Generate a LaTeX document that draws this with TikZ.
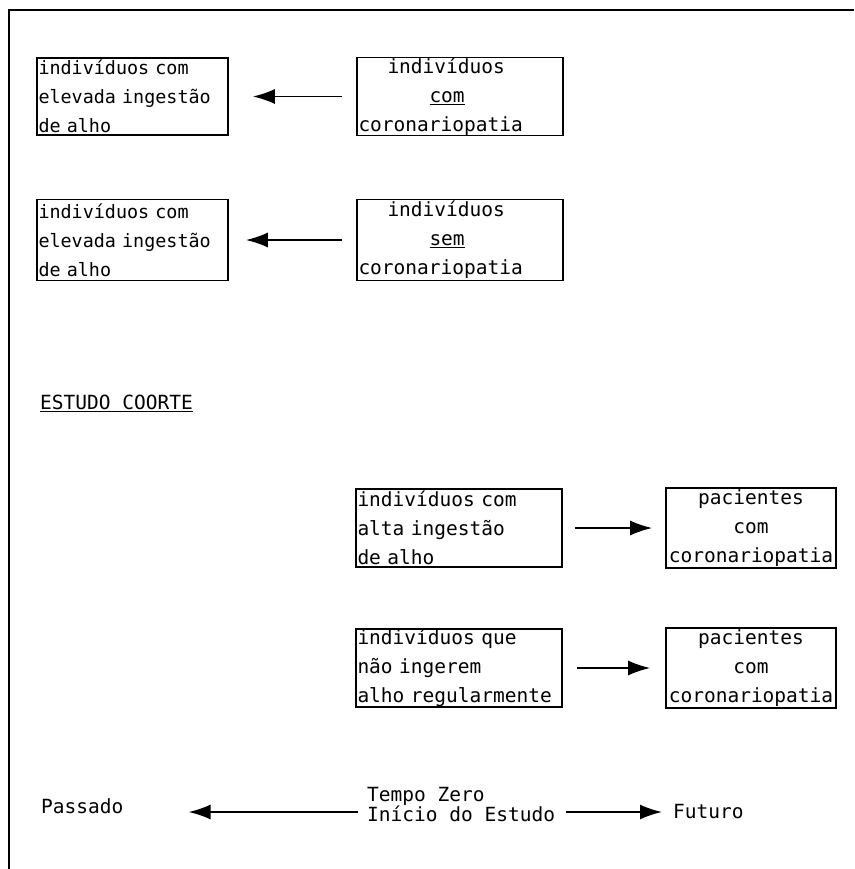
\documentclass[tikz,border=0pt]{standalone}
\usepackage{fontspec}
\setmonofont{DejaVu Sans Mono}
\usetikzlibrary{arrows.meta}

\begin{document}
\begin{tikzpicture}[x=1pt,y=-1pt]
        \tikzstyle{every node}=[font=\ttfamily\fontsize{19.5}{29}\selectfont]
        \tikzstyle{caixa}=[draw,line width=1.6pt,inner xsep=1.5pt,inner ysep=0pt,align=left]
        \tikzstyle{rotulo}=[inner sep=0pt,anchor=west]
        \tikzstyle{seta}=[line width=1.8pt,-{Latex[length=22pt,width=15pt]}]
        \useasboundingbox (0,0) rectangle (854,869);
        \draw[line width=2pt] (9,869) -- (9,10) -- (854,10);
        % caso-controle
        \node[caixa,text width=188pt,minimum height=77pt,font=\ttfamily\fontsize{18.4}{29}\selectfont] (a1) at (132.5,96.5)
            {indivíduos com\\elevada ingestão\\de alho};
        \node[caixa,text width=203pt,minimum height=77pt] (b1) at (460,96.5)
            {\hspace*{29pt}indivíduos\\ \hspace*{71pt}\underline{com}\\coronariopatia};
        \node[caixa,text width=188pt,minimum height=81pt,font=\ttfamily\fontsize{18.4}{29}\selectfont] (a2) at (132.5,240)
            {indivíduos com\\elevada ingestão\\de alho};
        \node[caixa,text width=203pt,minimum height=81pt] (b2) at (460,240)
            {\hspace*{29pt}indivíduos\\ \hspace*{71pt}\underline{sem}\\coronariopatia};
        \draw[seta,shorten <=14pt,shorten >=24pt] (b1) -- (a1);
        \draw[seta,shorten <=14pt,shorten >=17pt] (b2) -- (a2);
        % coorte
        \node[rotulo] (coorte) at (40,403) {\underline{ESTUDO COORTE}};
        \node[caixa,text width=203pt,minimum height=78pt] (c1) at (459,528)
            {indivíduos com\\alta ingestão\\de alho};
        \node[caixa,text width=167pt,minimum height=80pt,align=center] (d1) at (751,528)
            {pacientes\\com\\coronariopatia};
        \node[caixa,text width=203pt,minimum height=78pt] (c2) at (459,668)
            {indivíduos que\\não ingerem\\alho regularmente};
        \node[caixa,text width=167pt,minimum height=80pt,align=center] (d2) at (751,668)
            {pacientes\\com\\coronariopatia};
        \draw[seta,shorten <=12pt,shorten >=13pt] (c1) -- (d1);
        \draw[seta,shorten <=14pt,shorten >=15pt] (c2) -- (d2);
        % linha do tempo
        \node[rotulo] (passado) at (41,806) {Passado};
        \node[rotulo,align=left,font=\ttfamily\fontsize{19.5}{20}\selectfont] (tempo) at (367,805)
            {Tempo Zero\\Início do Estudo};
        \node[rotulo] (futuro) at (673,812) {Futuro};
        \draw[seta,shorten <=9pt,shorten >=65pt] (tempo.west |- futuro) -- (passado.east |- futuro);
        \draw[seta,shorten <=11pt,shorten >=11pt] (tempo.east |- futuro) -- (futuro.west);
    \end{tikzpicture}
\end{document}
